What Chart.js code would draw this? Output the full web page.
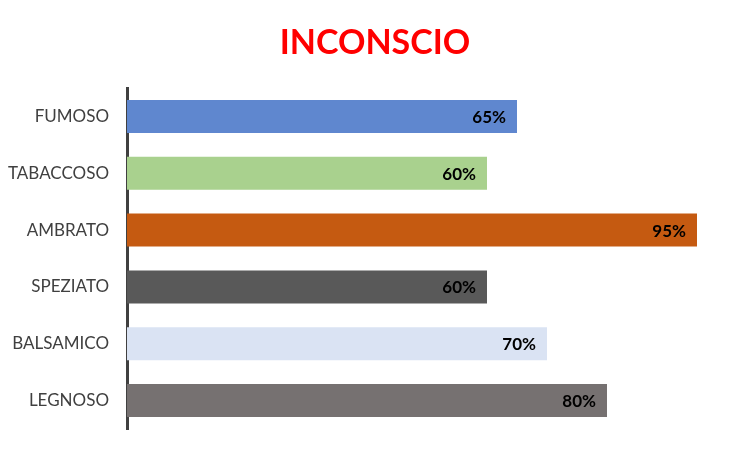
<!DOCTYPE html>
<html>
<head>
<meta charset="utf-8">
<script src="https://cdn.jsdelivr.net/npm/chart.js@4/dist/chart.umd.min.js"></script>
<style>
  html, body { margin: 0; padding: 0; background: #fff; }
  #wrap { width: 752px; height: 452px; }
</style>
</head>
<body>
<div id="wrap"><canvas id="myChart"></canvas></div>
<script>
// Data
const categories = ['FUMOSO', 'TABACCOSO', 'AMBRATO', 'SPEZIATO', 'BALSAMICO', 'LEGNOSO'];
const values = [65, 60, 95, 60, 70, 80];
const barColors = ['#5F87CF', '#A9D18E', '#C55A11', '#595959', '#DAE3F3', '#767171'];
const chartTitle = 'INCONSCIO';

// Title drawn above the plot
const titlePlugin = {
  id: 'bigTitle',
  afterDraw(chart) {
    const ctx = chart.ctx;
    ctx.save();
    ctx.font = 'bold 34px Lato';
    ctx.fillStyle = '#FF0000';
    ctx.textAlign = 'center';
    ctx.textBaseline = 'alphabetic';
    ctx.fillText(chartTitle, 375, 54);
    ctx.restore();
  }
};

// Value labels inside the end of each bar
const valueLabels = {
  id: 'valueLabels',
  afterDatasetsDraw(chart) {
    const ctx = chart.ctx;
    const meta = chart.getDatasetMeta(0);
    ctx.save();
    ctx.font = 'bold 17px Lato';
    ctx.fillStyle = '#000';
    ctx.textAlign = 'right';
    ctx.textBaseline = 'middle';
    meta.data.forEach((bar, i) => {
      ctx.fillText(values[i] + '%', bar.x - 11, bar.y + 1);
    });
    ctx.restore();
  }
};

new Chart(document.getElementById('myChart'), {
  type: 'bar',
  data: {
    labels: categories,
    datasets: [{
      data: values,
      backgroundColor: barColors,
      borderWidth: 0,
      categoryPercentage: 1,
      barPercentage: 0.58,
    }]
  },
  options: {
    indexAxis: 'y',
    responsive: true,
    maintainAspectRatio: false,
    animation: false,
    layout: { padding: { left: 0, right: 25, top: 88, bottom: 23 } },
    plugins: {
      legend: { display: false },
      tooltip: { enabled: false },
    },
    scales: {
      x: {
        display: false,
        min: 0,
        max: 100,
      },
      y: {
        afterFit(scale) { scale.width = 127; },
        grid: { display: false },
        border: { display: true, color: '#404040', width: 3 },
        ticks: {
          color: '#404040',
          font: { family: 'Lato', size: 17 },
          padding: 10,
        },
      },
    },
  },
  plugins: [titlePlugin, valueLabels],
});
</script>
</body>
</html>
